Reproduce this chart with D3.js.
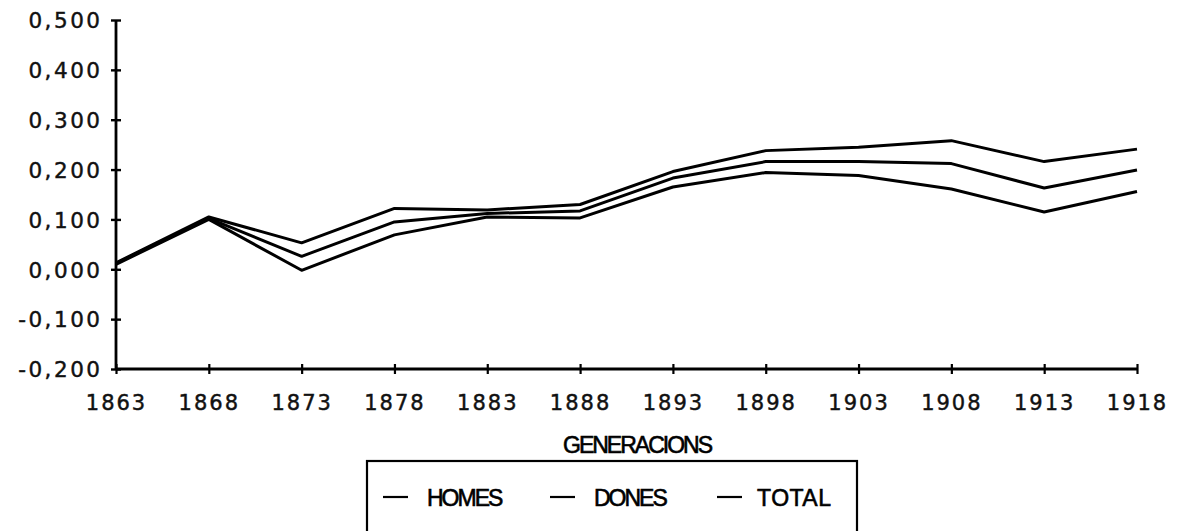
<!DOCTYPE html>
<html>
<head>
<meta charset="utf-8">
<script src="https://cdn.jsdelivr.net/npm/d3@7"></script>
<style>
  html, body { margin: 0; padding: 0; background: #fff; }
  svg { display: block; }
</style>
</head>
<body>
<svg id="chart" width="1180" height="531"></svg>
<script>
// ---- data ----
const years = [1863, 1868, 1873, 1878, 1883, 1888, 1893, 1898, 1903, 1908, 1913, 1918];
const dones = [0.013, 0.105, 0.053, 0.122, 0.119, 0.130, 0.196, 0.238, 0.245, 0.258, 0.216, 0.241];
const total = [0.012, 0.102, 0.026, 0.095, 0.112, 0.117, 0.183, 0.216, 0.216, 0.212, 0.163, 0.199];
const homes = [0.010, 0.100, -0.002, 0.069, 0.105, 0.103, 0.165, 0.194, 0.188, 0.161, 0.115, 0.156];
const yTicks = [-0.2, -0.1, 0, 0.1, 0.2, 0.3, 0.4, 0.5];
const seriesNames = ["HOMES", "DONES", "TOTAL"];
const xTitle = "GENERACIONS";

const series = [
  { name: seriesNames[0], values: homes },
  { name: seriesNames[1], values: dones },
  { name: seriesNames[2], values: total }
];

const svg = d3.select("#chart");
const x = d3.scaleLinear().domain([1863, 1918]).range([116, 1137]);
const y = d3.scaleLinear().domain([-0.2, 0.5]).range([369, 20]);

const fmt = v => d3.format(".3f")(v).replace(".", ",").replace("\u2212", "-");

// y axis
const gy = svg.append("g").attr("transform", `translate(${x.range()[0]},0)`)
  .call(d3.axisLeft(y).tickValues(yTicks).tickFormat(fmt).tickSize(5).tickPadding(8.5));
gy.select(".domain").attr("stroke", "#000").attr("stroke-width", 2.8)
  .attr("d", `M0,${y(0.5)}V${y(-0.2)}`);
gy.selectAll(".tick line").attr("x1", -5).attr("x2", 5).attr("stroke-width", 2.4);
gy.selectAll(".tick text")
  .attr("font-family", "DejaVu Sans").attr("font-size", 21.5)
  .attr("letter-spacing", 2.5).attr("fill", "#111")
  .attr("stroke", "#111").attr("stroke-width", 0.45).attr("dy", "0.36em");

// x axis
const gx = svg.append("g").attr("transform", `translate(0,${y(-0.2)})`)
  .call(d3.axisBottom(x).tickValues(years).tickFormat(d3.format("d")).tickSize(5).tickPadding(21));
gx.select(".domain").attr("stroke", "#000").attr("stroke-width", 2.8)
  .attr("d", `M${x.range()[0]},0H${x.range()[1]}`);
gx.selectAll(".tick line").attr("y1", -5).attr("y2", 5).attr("stroke-width", 2.2);
gx.selectAll(".tick text")
  .attr("font-family", "DejaVu Sans").attr("font-size", 21)
  .attr("letter-spacing", 2).attr("fill", "#111")
  .attr("stroke", "#111").attr("stroke-width", 0.45);

// lines
const line = d3.line().x((d, i) => x(years[i])).y(d => y(d));
svg.append("g").selectAll("path").data(series).join("path")
  .attr("d", d => line(d.values))
  .attr("fill", "none").attr("stroke", "#000")
  .attr("stroke-width", 3).attr("stroke-linejoin", "round");

// x title
svg.append("text").attr("x", 637).attr("y", 453).attr("text-anchor", "middle")
  .attr("font-family", "Liberation Sans, Arial").attr("font-size", 23)
  .attr("letter-spacing", -2).attr("stroke", "#000").attr("stroke-width", 0.6)
  .text(xTitle);

// legend
const lg = svg.append("g");
lg.append("rect").attr("x", 367).attr("y", 461).attr("width", 490).attr("height", 90)
  .attr("fill", "none").attr("stroke", "#000").attr("stroke-width", 2.2);
const legX = [383, 550, 717];
const items = lg.selectAll("g.item").data(series.map(s => s.name)).join("g")
  .attr("class", "item")
  .attr("transform", (d, i) => `translate(${legX[i]},497)`);
items.append("line").attr("x1", 0).attr("x2", 25).attr("y1", 0).attr("y2", 0)
  .attr("stroke", "#000").attr("stroke-width", 2.2);
items.append("text").attr("x", (d, i) => i === 2 ? 40 : 44).attr("y", 8.5)
  .attr("font-family", "Liberation Sans, Arial").attr("font-size", 23)
  .attr("letter-spacing", (d, i) => i === 2 ? 0.5 : -2)
  .attr("stroke", "#000").attr("stroke-width", 0.6)
  .text(d => d);
</script>
</body>
</html>
